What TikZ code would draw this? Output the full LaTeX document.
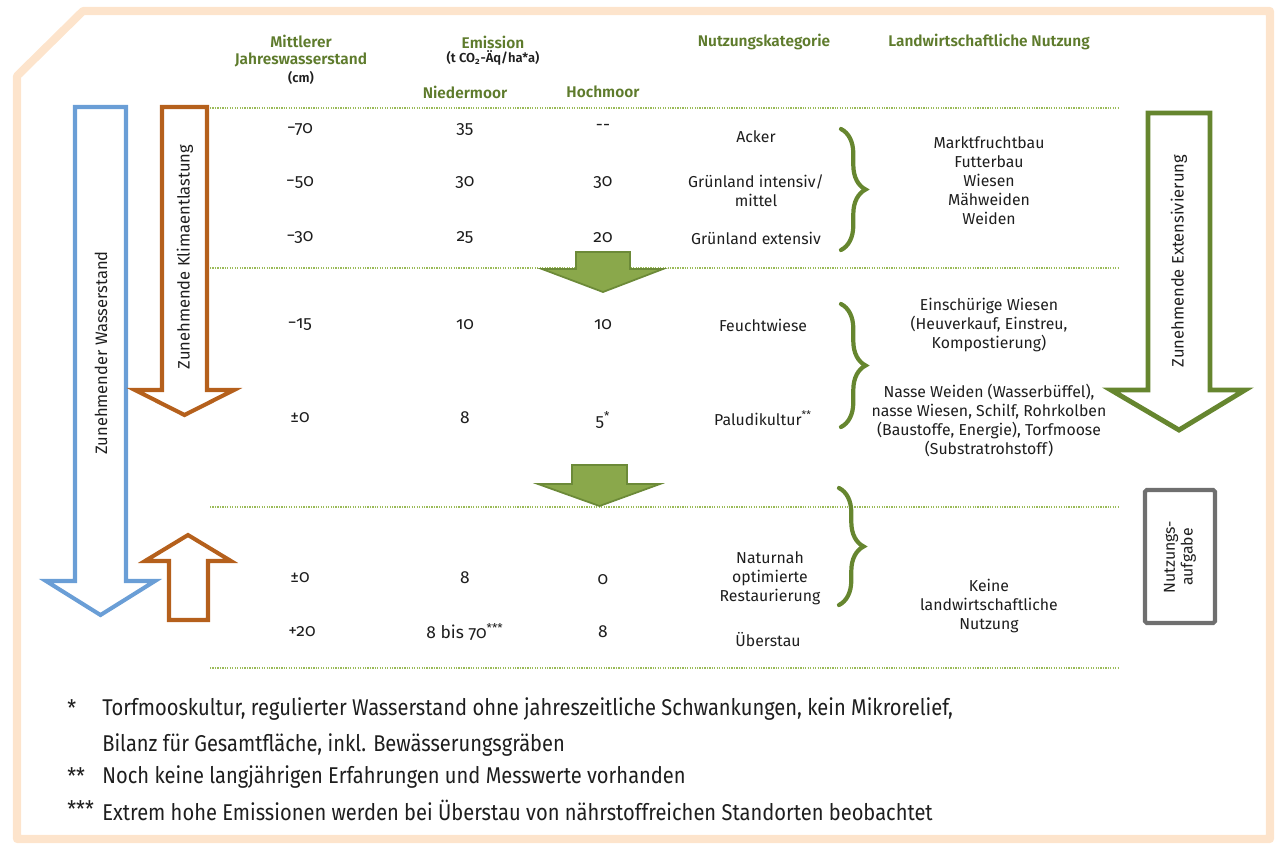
\documentclass[tikz,border=0pt]{standalone}
\usepackage{fontspec}
\setmainfont[Numbers=OldStyle]{Fira Sans}
\IfFontExistsTF{Fira Sans SemiBold}{\newfontfamily\hdrfont[Numbers=OldStyle]{Fira Sans SemiBold}}{\newfontfamily\hdrfont[Numbers=OldStyle,FakeBold=1.2]{Fira Sans}}
\newfontfamily\fnfont[FakeStretch=0.88]{Fira Sans}
\usetikzlibrary{decorations.pathreplacing}
\definecolor{peach}{HTML}{FDE4CC}
\definecolor{olive}{HTML}{5E7B2C}
\definecolor{dotgreen}{HTML}{9BBB59}
\definecolor{bluearr}{HTML}{6A9ED6}
\definecolor{brownarr}{HTML}{B5601C}
\definecolor{greenarr}{HTML}{66862F}
\definecolor{greenfill}{HTML}{8AA84B}
\definecolor{greenline}{HTML}{6C8A38}
\definecolor{grayarr}{HTML}{6F6F6F}
\definecolor{txt}{HTML}{1E1E1E}
\tikzset{
  hdr/.style={font=\fontsize{8.8}{10}\selectfont\hdrfont, text=olive, align=center, inner sep=0pt},
  subhdr/.style={font=\fontsize{7.4}{9}\selectfont\hdrfont, text=txt, align=center, inner sep=0pt},
  cell/.style={font=\fontsize{9}{10.8}\selectfont, text=txt, align=center, inner sep=0pt},
  num/.style={font=\fontsize{9.9}{11}\selectfont, text=txt, align=center, inner sep=0pt},
  rot/.style={font=\fontsize{9.4}{10.4}\selectfont, text=txt, align=center, inner sep=0pt, rotate=90},
  fn/.style={font=\fontsize{13}{15}\selectfont\fnfont, text=txt, anchor=west, inner sep=0pt},
  sepline/.style={draw=dotgreen, line width=1.1pt, dash pattern=on 0.7pt off 0.7pt},
  framebox/.style={draw=peach, line width=4.6pt, line join=round},
  bluearrow/.style={draw=bluearr, line width=2.3pt, line join=miter},
  brownarrow/.style={draw=brownarr, line width=2.3pt, line join=miter},
  greenarrow/.style={draw=greenarr, line width=2.8pt, line join=miter},
  fillarrow/.style={draw=greenline, fill=greenfill, line width=1pt, line join=miter},
  graybox/.style={draw=grayarr, line width=2.3pt, rounded corners=1pt},
  brc/.style={decorate, decoration={brace, amplitude=14pt}, draw=greenarr, line width=2.4pt, line cap=round},
}
\begin{document}
\begin{tikzpicture}[x=0.02cm, y=-0.02cm]
\useasboundingbox (0,0) rectangle (1279,843);
% frame
\draw[framebox] (17,76) -- (83,11) -- (1270,11) -- (1270,839) -- (17,839) -- cycle;

% separator lines
\draw[sepline] (210,108) -- (1120,108);
\draw[sepline] (210,268) -- (1120,268);
\draw[sepline] (210,507) -- (1120,507);
\draw[sepline] (210,668) -- (1120,668);

% headers
\node[hdr] (h1) at (301,51) {Mittlerer\\Jahreswasserstand};
\node[subhdr] (h1u) at (301,78) {(cm)};
\node[hdr] (h2) at (493,42) {Emission};
\node[subhdr] (h2u) at (493,58) {(t CO\textsubscript{2}-Äq/ha*a)};
\node[hdr] (h3) at (465,92) {Niedermoor};
\node[hdr] (h4) at (603,92) {Hochmoor};
\node[hdr] (h5) at (764,42) {Nutzungskategorie};
\node[hdr] (h6) at (989,42) {Landwirtschaftliche Nutzung};

% column 1
\node[num] (w1) at (300,130) {−70};
\node[num] (w2) at (300,183) {−50};
\node[num] (w3) at (300,238) {−30};
\node[num] (w4) at (300,325) {−15};
\node[num] (w5) at (300,418) {±0};
\node[num] (w6) at (300,578) {±0};
\node[num] (w7) at (302,632) {+20};
% column 2
\node[num] (n1) at (465,130) {35};
\node[num] (n2) at (465,183) {30};
\node[num] (n3) at (465,238) {25};
\node[num] (n4) at (465,325) {10};
\node[num] (n5) at (465,418) {8};
\node[num] (n6) at (465,578) {8};
\node[num] (n7) at (465,632) {8 bis 70\textsuperscript{***}};
% column 3
\node[num] (m1) at (603,127) {-{}-};
\node[num] (m2) at (603,183) {30};
\node[num] (m3) at (603,238) {20};
\node[num] (m4) at (603,325) {10};
\node[num] (m5) at (603,420) {5\textsuperscript{*}};
\node[num] (m6) at (603,580) {0};
\node[num] (m7) at (603,632) {8};
% column 4
\node[cell] (k1) at (756,137) {Acker};
\node[cell] (k2) at (756,191) {Grünland intensiv/\\mittel};
\node[cell] (k3) at (756,238) {Grünland extensiv};
\node[cell] (k4) at (763,325) {Feuchtwiese};
\node[cell] (k5) at (763,418) {Paludikultur\textsuperscript{**}};
\node[cell] (k6) at (770,578) {Naturnah\\optimierte\\Restaurierung};
\node[cell] (k7) at (768,640) {Überstau};
% column 5
\node[cell] (l1) at (989,181) {Marktfruchtbau\\Futterbau\\Wiesen\\Mähweiden\\Weiden};
\node[cell] (l2) at (989,325) {Einschürige Wiesen\\(Heuverkauf, Einstreu,\\Kompostierung)};
\node[cell] (l3) at (989,420) {Nasse Weiden (Wasserbüffel),\\nasse Wiesen, Schilf, Rohrkolben\\(Baustoffe, Energie), Torfmoose\\(Substratrohstoff)};
\node[cell] (l4) at (989,606) {Keine\\landwirtschaftliche\\Nutzung};

% braces
\draw[brc] (841,129) -- (841,250);
\draw[brc] (841,304) -- (841,427);
\draw[brc] (839,488) -- (839,605);

% left arrows
\draw[bluearrow] (75,107) -- (126,107) -- (126,581) -- (155,581) -- (100.5,615) -- (46,581) -- (75,581) -- cycle;
\node[rot] (tw) at (101,353) {Zunehmender Wasserstand};
\draw[brownarrow] (162,107) -- (207,107) -- (207,390) -- (234,390) -- (184.5,415) -- (135,390) -- (162,390) -- cycle;
\node[rot] (tk) at (185,257) {Zunehmende Klimaentlastung};
\draw[brownarrow] (169,620) -- (169,561) -- (145,561) -- (188,535) -- (231,561) -- (208,561) -- (208,620) -- cycle;

% right arrow and box
\draw[greenarrow] (1148,113) -- (1210,113) -- (1210,390) -- (1245,390) -- (1179,430) -- (1111,390) -- (1148,390) -- cycle;
\node[rot] (te) at (1179,261) {Zunehmende Extensivierung};
\draw[graybox] (1145,490) rectangle (1215,623);
\node[rot, font=\fontsize{9}{10}\selectfont] (tn) at (1180,557) {Nutzungs-\\aufgabe};

% filled green arrows
\draw[fillarrow] (576,252) -- (630,252) -- (630,269) -- (663,269) -- (603,292) -- (542,269) -- (576,269) -- cycle;
\draw[fillarrow] (572,465) -- (627,465) -- (627,484) -- (660,484) -- (599.5,506) -- (538,484) -- (572,484) -- cycle;

% footnotes
\node[fn] (s1) at (67,708) {*};
\node[fn] (f1) at (102,709) {Torfmooskultur, regulierter Wasserstand ohne jahreszeitliche Schwankungen, kein Mikrorelief,};
\node[fn] (f1b) at (102,745) {Bilanz für Gesamtfläche, inkl. Bewässerungsgräben};
\node[fn] (s2) at (67,776) {**};
\node[fn] (f2) at (102,777) {Noch keine langjährigen Erfahrungen und Messwerte vorhanden};
\node[fn] (s3) at (67,809) {***};
\node[fn] (f3) at (102,810) {Extrem hohe Emissionen werden bei Überstau von nährstoffreichen Standorten beobachtet};
\end{tikzpicture}
\end{document}
